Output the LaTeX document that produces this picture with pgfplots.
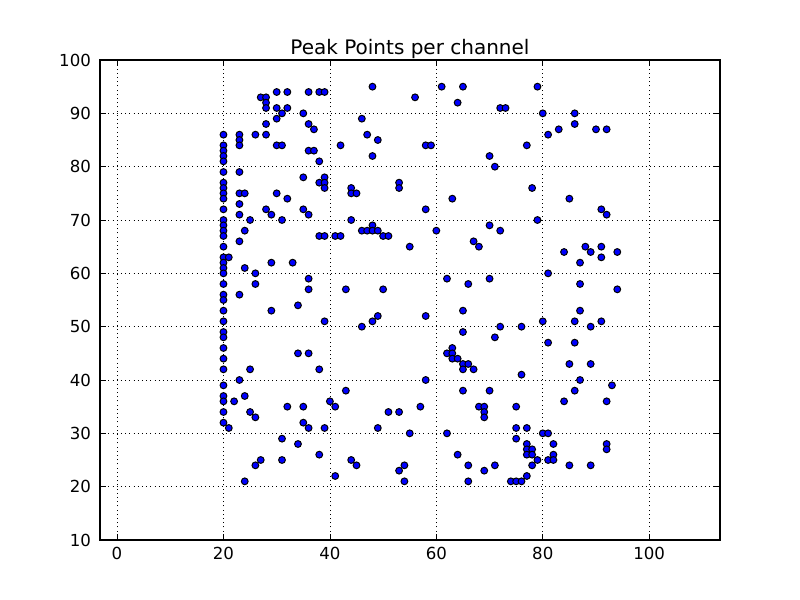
\documentclass[border=0pt]{standalone}
\usepackage{fontspec}
\setmainfont{DejaVu Sans}
\usepackage{pgfplots}
\pgfplotsset{compat=1.18}
\definecolor{ptblue}{RGB}{0,0,255}

\pgfplotstableread{
x y
20 86
20 84
20 83
20 82
20 81
20 79
20 77
20 76
20 75
20 74
20 72
20 70
20 69
20 68
20 67
20 65
20 63
20 62
20 61
20 60
20 58
20 56
20 55
20 53
20 51
20 49
20 48
20 46
20 44
20 42
20 39
20 37
20 36
20 34
20 32
21 63
21 31
22 36
23 86
23 85
23 84
23 79
23 75
23 73
23 71
23 66
23 56
23 40
24 75
24 68
24 61
24 37
24 21
25 70
25 42
25 34
26 86
26 60
26 58
26 33
26 24
27 93
27 25
28 93
28 92
28 91
28 88
28 86
28 72
29 71
29 62
29 53
30 94
30 91
30 89
30 84
30 75
31 90
31 84
31 70
31 29
31 25
32 94
32 91
32 74
32 35
33 62
34 54
34 45
34 28
35 90
35 78
35 72
35 35
35 32
36 94
36 88
36 83
36 71
36 59
36 57
36 45
36 31
37 87
37 83
38 94
38 81
38 77
38 67
38 42
38 26
39 94
39 78
39 77
39 76
39 67
39 51
39 31
40 36
41 67
41 35
41 22
42 84
42 67
43 57
43 38
44 76
44 75
44 70
44 25
45 75
45 24
46 89
46 68
46 50
47 86
47 68
48 95
48 82
48 69
48 68
48 51
49 85
49 68
49 52
49 31
50 67
50 57
51 67
51 34
53 77
53 76
53 34
53 23
54 24
54 21
55 65
55 30
56 93
57 35
58 84
58 72
58 52
58 40
59 84
60 68
61 95
62 59
62 45
62 30
63 74
63 46
63 45
63 44
64 92
64 44
64 26
65 95
65 53
65 49
65 43
65 42
65 38
66 58
66 43
66 24
66 21
67 66
67 42
68 65
68 35
69 35
69 34
69 33
69 23
70 82
70 69
70 59
70 38
71 80
71 48
71 24
72 91
72 68
72 50
73 91
74 21
75 35
75 31
75 29
75 21
76 50
76 41
76 21
77 84
77 31
77 28
77 27
77 26
77 22
78 76
78 27
78 26
78 24
79 95
79 70
79 25
80 90
80 51
80 30
81 86
81 60
81 47
81 30
81 25
82 28
82 26
82 25
83 87
84 64
84 36
85 74
85 43
85 24
86 90
86 88
86 51
86 47
86 38
87 62
87 58
87 53
87 40
88 65
89 64
89 50
89 43
89 24
90 87
91 72
91 65
91 63
91 51
92 87
92 71
92 36
92 28
92 27
93 39
94 64
94 57
}\peaks

\begin{document}
\begin{tikzpicture}
\begin{axis}[
    at={(0,0)}, anchor=south west,
    scale only axis,
    width=310pt, height=240pt,
    xmin=-3.2, xmax=113.3,
    ymin=10, ymax=100,
    xtick={0,20,40,60,80,100},
    ytick={10,20,30,40,50,60,70,80,90,100},
    tick align=inside,
    major tick length=2.8pt,
    tick style={black, line width=0.4pt},
    axis line style={black, line width=0.7pt},
    grid=major,
    grid style={black, line width=0.35pt, dash pattern=on 0.5pt off 1.6pt},
    ticklabel style={font=\fontsize{8.3pt}{10pt}\selectfont},
    /pgf/number format/assume math mode=true,
    title={Peak Points per channel},
    title style={font=\fontsize{10pt}{12pt}\selectfont, yshift=-9pt},
    xticklabel style={yshift=0pt},
    yticklabel style={xshift=-1pt},
]
\addplot[only marks, mark=*, mark size=1.7pt,
    mark options={fill=ptblue, draw=black, line width=0.5pt}]
    table[x=x, y=y] {\peaks};
\end{axis}
\pgfresetboundingbox
\path[use as bounding box] (-50pt,-30pt) rectangle (350pt,270pt);
\end{tikzpicture}
\end{document}
